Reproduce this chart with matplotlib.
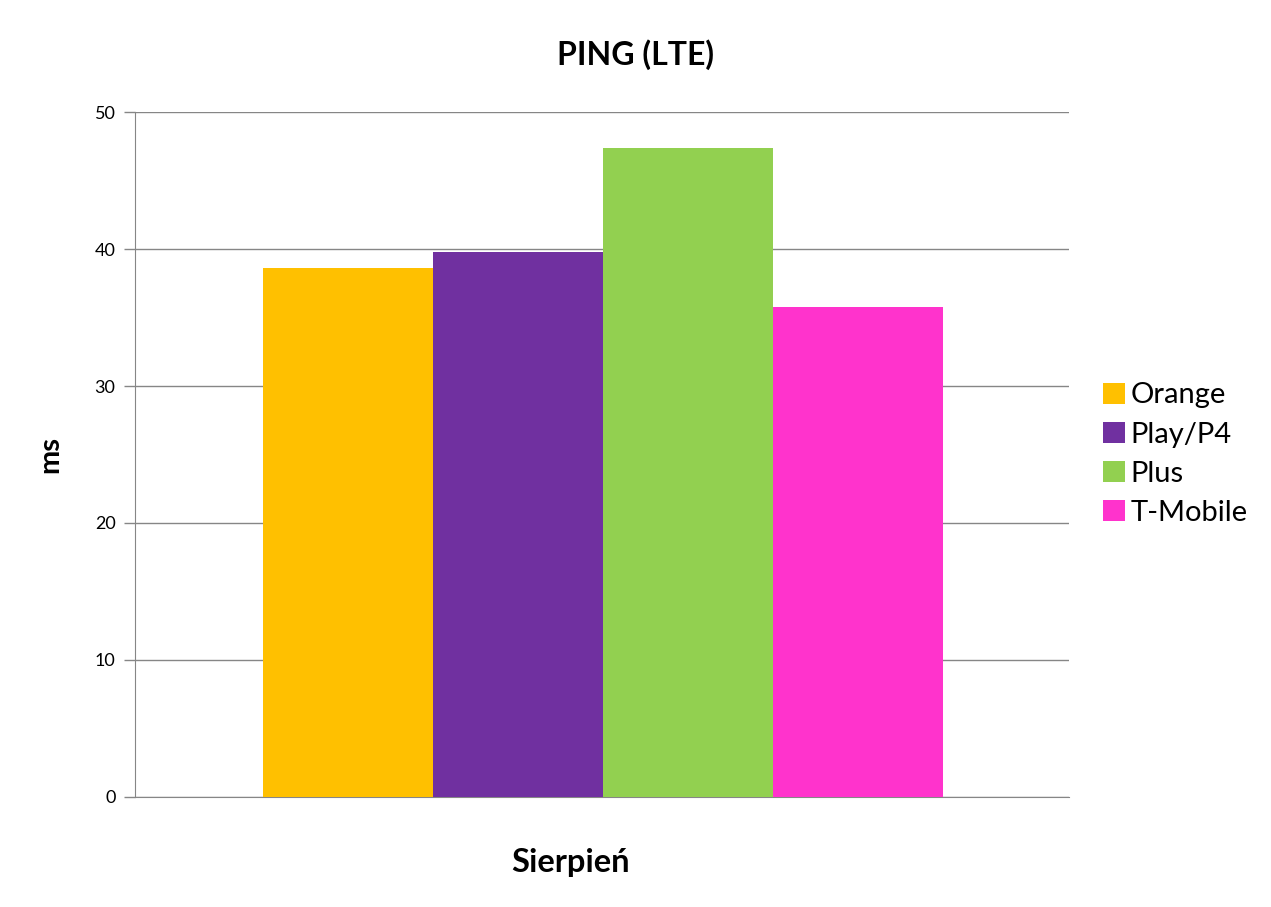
import matplotlib
matplotlib.use("Agg")
import matplotlib.pyplot as plt
import numpy as np

plt.rcParams['font.family'] = ['Lato', 'DejaVu Sans']

operators = ["Orange", "Play/P4", "Plus", "T-Mobile"]
ping_ms = [38.6, 39.8, 47.4, 35.8]
colors = ["#FFC000", "#7030A0", "#92D050", "#FF33CC"]
category = "Sierpień"
y_ticks = [0, 10, 20, 30, 40, 50]

fig = plt.figure(figsize=(12.71, 9.07), dpi=100)
ax = fig.add_axes([0.1062, 0.1213, 0.7349, 0.7552])

bar_w = 0.182
offsets = (np.arange(len(operators)) - (len(operators) - 1) / 2) * bar_w
for off, val, col, name in zip(offsets, ping_ms, colors, operators):
    ax.bar(off + 0.001, val, width=bar_w, color=col, label=name, zorder=3)

ax.set_xlim(-0.5, 0.5)
ax.set_ylim(0, 50)
ax.set_yticks(y_ticks)
ax.set_yticklabels([str(t) for t in y_ticks], fontsize=13)
ax.set_xticks([])
ax.text(0.466, -0.095, category, transform=ax.transAxes, ha='center', va='center',
        fontsize=23.5, fontweight='bold')
ax.tick_params(axis='y', length=8, color='#868686', width=1, pad=6)
ax.grid(axis='y', color='#868686', linewidth=1, zorder=0)
for side in ['top', 'right']:
    ax.spines[side].set_visible(False)
ax.spines['left'].set_color('#868686')
ax.spines['bottom'].set_color('#868686')

fig.text(50 / 1271, 1 - 455 / 907, "ms", rotation=90, ha='center', va='center',
         fontsize=21, fontweight='bold')
fig.text(0.5, 0.94, "PING (LTE)", ha='center', va='center', fontsize=23, fontweight='bold')

leg = ax.legend(loc='center left', bbox_to_anchor=(1.0236, 0.5006), frameon=False,
                fontsize=21, handlelength=0.75, handleheight=0.75, handletextpad=0.2,
                labelspacing=0.45, borderaxespad=0)

fig.savefig("out.png", dpi=100)
